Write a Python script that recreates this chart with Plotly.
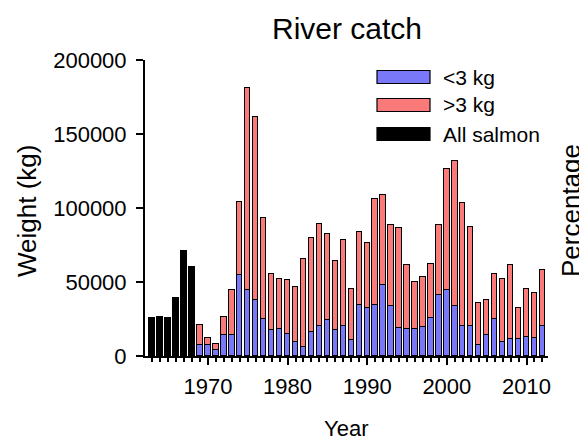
import plotly.graph_objects as go

# ---- data ----
years_all = [1963, 1964, 1965, 1966, 1967, 1968]
all_salmon = [25500, 26300, 25500, 38900, 70900, 60000]

years = list(range(1969, 2013))
small = [7700, 7700, 4300, 14000, 14000, 54500, 44800, 38000, 24800, 17300,
         18500, 15100, 9500, 6100, 16200, 20300, 24100, 17300, 20300, 10800,
         34700, 32700, 34700, 47700, 33500, 19200, 18200, 18200, 19400, 25900,
         41000, 44300, 33500, 20500, 20500, 7200, 14000, 24800, 9700, 11700,
         11700, 12800, 11900, 20500]
large = [13000, 4500, 4100, 12300, 30800, 49300, 136100, 123300, 68600, 38300,
         33700, 36000, 37100, 59200, 63500, 69100, 58500, 46800, 58300, 34700,
         49000, 43400, 71100, 61200, 54700, 67000, 43000, 31800, 33900, 36400,
         47400, 82200, 98400, 83000, 67000, 28800, 24000, 30800, 42500, 49500,
         21000, 32700, 30600, 37300]

legend_names = ["<3 kg", ">3 kg", "All salmon"]
BLUE = "#7878f8"
RED = "#fa7a7a"
BLACK = "#000000"
FONT = "Liberation Sans, Arial, sans-serif"

# page body adds an 8px offset; figure sized so it fits the window
W, H = 579, 432
ML, MR, MT, MB = 137, 39, 52, 84
OFF = 8
PX0, PX1 = OFF + ML, OFF + W - MR      # plot area in screen pixels
PY0, PY1 = OFF + MT, OFF + H - MB


def px(x):
    return (x - PX0) / (PX1 - PX0)


def py(y):
    return (PY1 - y) / (PY1 - PY0)


fig = go.Figure()
line = dict(color="black", width=1.5)
fig.add_trace(go.Bar(x=years_all, y=all_salmon, name=legend_names[2],
                     marker=dict(color=BLACK, line=line), width=0.68))
fig.add_trace(go.Bar(x=years, y=small, name=legend_names[0],
                     marker=dict(color=BLUE, line=line), width=0.68))
fig.add_trace(go.Bar(x=years, y=large, name=legend_names[1],
                     marker=dict(color=RED, line=line), width=0.68))

# custom legend (swatch rectangles + labels)
colors = [BLUE, RED, BLACK]
rows_y = [77, 105, 134]
for name, c, yy in zip(legend_names, colors, rows_y):
    fig.add_shape(type="rect", xref="paper", yref="paper",
                  x0=px(377), x1=px(430), y0=py(yy + 6.5), y1=py(yy - 6.5),
                  fillcolor=c, line=dict(color="black", width=1.2))
    fig.add_annotation(text=name, xref="paper", yref="paper", x=px(441), y=py(yy),
                       xanchor="left", yanchor="middle", showarrow=False,
                       font=dict(size=21, color="black", family=FONT))

# axis titles as annotations for exact placement
fig.add_annotation(text="Percentage", xref="paper", yref="paper",
                   x=px(571), y=py(211), textangle=-90, showarrow=False,
                   xanchor="center", yanchor="middle",
                   font=dict(size=26, color="black", family=FONT))
fig.add_annotation(text="Weight (kg)", xref="paper", yref="paper",
                   x=px(27), y=py(211), textangle=-90, showarrow=False,
                   xanchor="center", yanchor="middle",
                   font=dict(size=26, color="black", family=FONT))
fig.add_annotation(text="Year", xref="paper", yref="paper",
                   x=px(346), y=py(428), showarrow=False,
                   xanchor="center", yanchor="middle",
                   font=dict(size=22, color="black", family=FONT))

fig.update_layout(
    barmode="stack",
    showlegend=False,
    width=W, height=H,
    margin=dict(l=ML, r=MR, t=MT, b=MB),
    paper_bgcolor="white", plot_bgcolor="white",
    font=dict(family=FONT, color="black"),
    title=dict(text="River catch", x=px(347), xref="paper", xanchor="center",
               y=1 - (28 - OFF) / H, yref="container", yanchor="middle",
               font=dict(size=30, color="black", family=FONT)),
    bargap=0,
)
fig.update_xaxes(
    range=[1962.1, 2012.7], showgrid=False, zeroline=False,
    showline=True, linecolor="black", linewidth=2,
    ticks="outside", tick0=1970, dtick=10, ticklen=7, tickwidth=2,
    tickcolor="black", tickfont=dict(size=22, color="black"),
    ticklabelstandoff=3,
    minor=dict(ticks="outside", dtick=1, tick0=1970, ticklen=4, tickwidth=1.5,
               tickcolor="black", showgrid=False),
    automargin=False,
)
fig.update_yaxes(
    range=[0, 200000], showgrid=False, zeroline=False,
    showline=True, linecolor="black", linewidth=2,
    ticks="outside", tick0=0, dtick=50000, ticklen=7, tickwidth=2,
    tickcolor="black", tickformat="d", tickfont=dict(size=22, color="black"),
    ticklabelstandoff=5,
    automargin=False,
)

fig.write_html("out.html")
